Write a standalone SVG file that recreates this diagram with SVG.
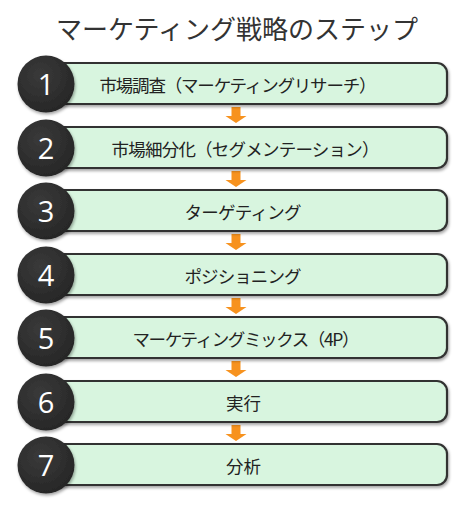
<svg xmlns="http://www.w3.org/2000/svg" width="472" height="512" viewBox="0 0 472 512">
<defs>
<filter id="sh" x="-10%" y="-20%" width="120%" height="150%">
<feDropShadow dx="1" dy="2" stdDeviation="1.5" flood-color="#000" flood-opacity="0.35"/>
</filter>
<radialGradient id="cg" cx="40%" cy="35%" r="70%">
<stop offset="0" stop-color="#3a3a3a"/>
<stop offset="1" stop-color="#262626"/>
</radialGradient>
</defs>
<style>
.box{fill:#d8f5df;stroke:#333;stroke-width:2.2;filter:url(#sh)}
.circ{fill:url(#cg);filter:url(#sh)}
.num{fill:#fff;font-family:"Open Sans","Liberation Sans",sans-serif;font-size:29px;text-anchor:middle}
.lbl{fill:#222;font-family:"Noto Sans CJK JP","Noto Sans",sans-serif;font-size:17.5px}
.mid{text-anchor:middle}
.title{fill:#333;font-family:"Noto Sans CJK JP",sans-serif;font-size:26px;text-anchor:middle}
.arr{fill:#f7921e}
</style>
<rect width="472" height="512" fill="#fff"/>
<text class="title" x="237" y="39">マーケティング戦略のステップ</text>
<g id="connectors">
<path class="arr" d="M231.5 107h9v9h6l-10.5 7l-10.5-7h6z"/>
<path class="arr" d="M231.5 171h9v9h6l-10.5 7l-10.5-7h6z"/>
<path class="arr" d="M231.5 234h9v9h6l-10.5 7l-10.5-7h6z"/>
<path class="arr" d="M231.5 298h9v9h6l-10.5 7l-10.5-7h6z"/>
<path class="arr" d="M231.5 361h9v9h6l-10.5 7l-10.5-7h6z"/>
<path class="arr" d="M231.5 425h9v9h6l-10.5 7l-10.5-7h6z"/>
</g>
<g id="step1">
<rect class="box" x="50" y="63" width="397" height="41" rx="10"/>
<circle class="circ" cx="46" cy="84" r="28.5"/>
<text class="num" x="46" y="94.5">1</text>
<text class="lbl" x="99.5" y="92" textLength="277" lengthAdjust="spacing">市場調査（マーケティングリサーチ）</text>
</g>
<g id="step2">
<rect class="box" x="50" y="127" width="397" height="41" rx="10"/>
<circle class="circ" cx="46" cy="148" r="28.5"/>
<text class="num" x="46" y="158.5">2</text>
<text class="lbl" x="111.5" y="156" textLength="268" lengthAdjust="spacing">市場細分化（セグメンテーション）</text>
</g>
<g id="step3">
<rect class="box" x="50" y="190" width="397" height="41" rx="10"/>
<circle class="circ" cx="46" cy="211" r="28.5"/>
<text class="num" x="46" y="221.5">3</text>
<text class="lbl" x="184.5" y="219" textLength="117" lengthAdjust="spacing">ターゲティング</text>
</g>
<g id="step4">
<rect class="box" x="50" y="254" width="397" height="41" rx="10"/>
<circle class="circ" cx="46" cy="275" r="28.5"/>
<text class="num" x="46" y="285.5">4</text>
<text class="lbl" x="184.5" y="283" textLength="117" lengthAdjust="spacing">ポジショニング</text>
</g>
<g id="step5">
<rect class="box" x="50" y="317" width="397" height="41" rx="10"/>
<circle class="circ" cx="46" cy="338" r="28.5"/>
<text class="num" x="46" y="348.5">5</text>
<text class="lbl" x="132.5" y="346" textLength="227" lengthAdjust="spacing">マーケティングミックス（4P）</text>
</g>
<g id="step6">
<rect class="box" x="50" y="381" width="397" height="41" rx="10"/>
<circle class="circ" cx="46" cy="402" r="28.5"/>
<text class="num" x="46" y="412.5">6</text>
<text class="lbl mid" x="243.5" y="410">実行</text>
</g>
<g id="step7">
<rect class="box" x="50" y="444" width="397" height="41" rx="10"/>
<circle class="circ" cx="46" cy="465" r="28.5"/>
<text class="num" x="46" y="475.5">7</text>
<text class="lbl mid" x="243.5" y="473">分析</text>
</g>
</svg>
